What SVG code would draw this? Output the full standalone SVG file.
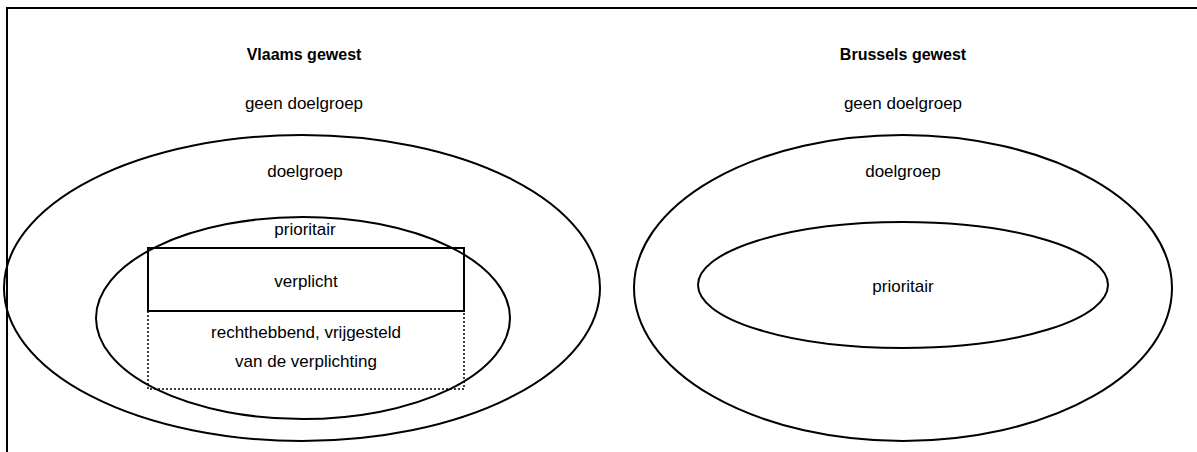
<svg xmlns="http://www.w3.org/2000/svg" width="1197" height="452" viewBox="0 0 1197 452">
<style>
.s{fill:none;stroke:#000;stroke-width:2}
.d{fill:none;stroke:#000;stroke-width:1.5;stroke-dasharray:2 2}
text{font-family:"Liberation Sans",Arial,sans-serif;font-size:17px;fill:#000;text-anchor:middle}
.b{font-weight:bold;font-size:16px}
</style>
<rect x="0" y="0" width="1197" height="452" fill="#fff"/>
<path d="M7 452 V8 H1197" class="s" stroke-width="2.5"/>
<g id="vlaams">
<text class="b" x="304" y="60">Vlaams gewest</text>
<text x="304" y="109">geen doelgroep</text>
<ellipse cx="302" cy="288" rx="298" ry="153" class="s"/>
<text x="305" y="177">doelgroep</text>
<ellipse cx="303" cy="318" rx="207" ry="101" class="s"/>
<text x="305" y="235">prioritair</text>
<rect x="148" y="248" width="316" height="63" fill="#fff" class="s"/>
<text x="306" y="287">verplicht</text>
<path d="M148 311 V389 H464 V311" class="d"/>
<text x="306" y="338">rechthebbend, vrijgesteld</text>
<text x="306" y="367">van de verplichting</text>
</g>
<g id="brussels">
<text class="b" x="903" y="60">Brussels gewest</text>
<text x="903" y="109">geen doelgroep</text>
<ellipse cx="903" cy="288" rx="269" ry="153" class="s"/>
<text x="903" y="177">doelgroep</text>
<ellipse cx="903" cy="285" rx="205" ry="63" class="s"/>
<text x="903" y="292">prioritair</text>
</g>
</svg>
